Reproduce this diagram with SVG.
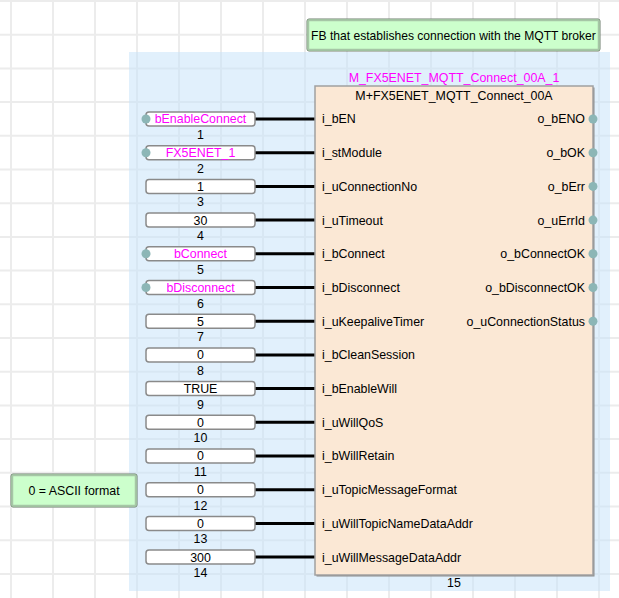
<svg xmlns="http://www.w3.org/2000/svg" width="619" height="598" viewBox="0 0 619 598">
<style>
text{font-family:"Liberation Sans",Arial,sans-serif;font-size:12.4px;fill:#000}
.grid line{stroke:#ececec;stroke-width:2}
.var{fill:#ff00ff}
.ibox{fill:#ffffff;stroke:#8a8a8a;stroke-width:1.5}
.num{text-anchor:middle}
.wire{stroke:#000;stroke-width:3}
.dot{fill:#8cb6b6}
.mid{text-anchor:middle}
.end{text-anchor:end}
</style>
<rect width="619" height="598" fill="#ffffff"/>
<g class="grid">
<line x1="11" y1="0" x2="11" y2="598"/><line x1="53" y1="0" x2="53" y2="598"/><line x1="95" y1="0" x2="95" y2="598"/><line x1="137" y1="0" x2="137" y2="598"/><line x1="179" y1="0" x2="179" y2="598"/><line x1="221" y1="0" x2="221" y2="598"/><line x1="263" y1="0" x2="263" y2="598"/><line x1="305" y1="0" x2="305" y2="598"/><line x1="347" y1="0" x2="347" y2="598"/><line x1="389" y1="0" x2="389" y2="598"/><line x1="431" y1="0" x2="431" y2="598"/><line x1="473" y1="0" x2="473" y2="598"/><line x1="515" y1="0" x2="515" y2="598"/><line x1="557" y1="0" x2="557" y2="598"/><line x1="599" y1="0" x2="599" y2="598"/>
<line x1="0" y1="1" x2="619" y2="1"/><line x1="0" y1="34.7" x2="619" y2="34.7"/><line x1="0" y1="68.4" x2="619" y2="68.4"/><line x1="0" y1="102.1" x2="619" y2="102.1"/><line x1="0" y1="135.8" x2="619" y2="135.8"/><line x1="0" y1="169.5" x2="619" y2="169.5"/><line x1="0" y1="203.2" x2="619" y2="203.2"/><line x1="0" y1="236.9" x2="619" y2="236.9"/><line x1="0" y1="270.6" x2="619" y2="270.6"/><line x1="0" y1="304.3" x2="619" y2="304.3"/><line x1="0" y1="338" x2="619" y2="338"/><line x1="0" y1="371.7" x2="619" y2="371.7"/><line x1="0" y1="405.4" x2="619" y2="405.4"/><line x1="0" y1="439.1" x2="619" y2="439.1"/><line x1="0" y1="472.8" x2="619" y2="472.8"/><line x1="0" y1="506.5" x2="619" y2="506.5"/><line x1="0" y1="540.2" x2="619" y2="540.2"/><line x1="0" y1="573.9" x2="619" y2="573.9"/>
</g>
<rect x="129" y="52" width="481" height="539" fill="#c8e4fa" fill-opacity="0.55"/>

<g id="comment-top">
<rect x="307" y="19" width="293" height="32" rx="2" fill="#ccffcc" stroke="#6f7f6f" stroke-width="1"/>
<rect x="308.5" y="20.5" width="290" height="29" fill="none" stroke="#a6c6a6" stroke-width="1.5"/>
<text x="453.5" y="39.5" class="mid" style="font-size:12.1px">FB that establishes connection with the MQTT broker</text>
</g>

<g id="comment-ascii">
<rect x="11" y="474" width="126" height="33" rx="2" fill="#ccffcc" stroke="#6f7f6f" stroke-width="1"/>
<rect x="12.5" y="475.5" width="123" height="30" fill="none" stroke="#a6c6a6" stroke-width="1.5"/>
<text x="74" y="494.5" class="mid">0 = ASCII format</text>
</g>

<g id="connectors">
<line class="wire" x1="255" y1="119" x2="315" y2="119"/>
<line class="wire" x1="255" y1="152.7" x2="315" y2="152.7"/>
<line class="wire" x1="255" y1="186.4" x2="315" y2="186.4"/>
<line class="wire" x1="255" y1="220.1" x2="315" y2="220.1"/>
<line class="wire" x1="255" y1="253.8" x2="315" y2="253.8"/>
<line class="wire" x1="255" y1="287.5" x2="315" y2="287.5"/>
<line class="wire" x1="255" y1="321.2" x2="315" y2="321.2"/>
<line class="wire" x1="255" y1="354.9" x2="315" y2="354.9"/>
<line class="wire" x1="255" y1="388.6" x2="315" y2="388.6"/>
<line class="wire" x1="255" y1="422.3" x2="315" y2="422.3"/>
<line class="wire" x1="255" y1="456" x2="315" y2="456"/>
<line class="wire" x1="255" y1="489.7" x2="315" y2="489.7"/>
<line class="wire" x1="255" y1="523.4" x2="315" y2="523.4"/>
<line class="wire" x1="255" y1="557.1" x2="315" y2="557.1"/>
</g>

<g id="in1"><rect class="ibox" x="146" y="112" width="109" height="14" rx="3"/><circle class="dot" cx="146" cy="119" r="4.5"/><text class="var mid" x="200.5" y="123.4">bEnableConnect</text><text class="num" x="200.5" y="139">1</text></g>
<g id="in2"><rect class="ibox" x="146" y="145.7" width="109" height="14" rx="3"/><circle class="dot" cx="146" cy="152.7" r="4.5"/><text class="var mid" x="200.5" y="157.1">FX5ENET_1</text><text class="num" x="200.5" y="172.7">2</text></g>
<g id="in3"><rect class="ibox" x="146" y="179.4" width="109" height="14" rx="3"/><text class="mid" x="200.5" y="190.8">1</text><text class="num" x="200.5" y="206.4">3</text></g>
<g id="in4"><rect class="ibox" x="146" y="213.1" width="109" height="14" rx="3"/><text class="mid" x="200.5" y="224.5">30</text><text class="num" x="200.5" y="240.1">4</text></g>
<g id="in5"><rect class="ibox" x="146" y="246.8" width="109" height="14" rx="3"/><circle class="dot" cx="146" cy="253.8" r="4.5"/><text class="var mid" x="200.5" y="258.2">bConnect</text><text class="num" x="200.5" y="273.8">5</text></g>
<g id="in6"><rect class="ibox" x="146" y="280.5" width="109" height="14" rx="3"/><circle class="dot" cx="146" cy="287.5" r="4.5"/><text class="var mid" x="200.5" y="291.9">bDisconnect</text><text class="num" x="200.5" y="307.5">6</text></g>
<g id="in7"><rect class="ibox" x="146" y="314.2" width="109" height="14" rx="3"/><text class="mid" x="200.5" y="325.6">5</text><text class="num" x="200.5" y="341.2">7</text></g>
<g id="in8"><rect class="ibox" x="146" y="347.9" width="109" height="14" rx="3"/><text class="mid" x="200.5" y="359.3">0</text><text class="num" x="200.5" y="374.9">8</text></g>
<g id="in9"><rect class="ibox" x="146" y="381.6" width="109" height="14" rx="3"/><text class="mid" x="200.5" y="393">TRUE</text><text class="num" x="200.5" y="408.6">9</text></g>
<g id="in10"><rect class="ibox" x="146" y="415.3" width="109" height="14" rx="3"/><text class="mid" x="200.5" y="426.7">0</text><text class="num" x="200.5" y="442.3">10</text></g>
<g id="in11"><rect class="ibox" x="146" y="449" width="109" height="14" rx="3"/><text class="mid" x="200.5" y="460.4">0</text><text class="num" x="200.5" y="476">11</text></g>
<g id="in12"><rect class="ibox" x="146" y="482.7" width="109" height="14" rx="3"/><text class="mid" x="200.5" y="494.1">0</text><text class="num" x="200.5" y="509.7">12</text></g>
<g id="in13"><rect class="ibox" x="146" y="516.4" width="109" height="14" rx="3"/><text class="mid" x="200.5" y="527.8">0</text><text class="num" x="200.5" y="543.4">13</text></g>
<g id="in14"><rect class="ibox" x="146" y="550.1" width="109" height="14" rx="3"/><text class="mid" x="200.5" y="561.5">300</text><text class="num" x="200.5" y="577.1">14</text></g>

<g id="fb">
<text class="var mid" x="454" y="82">M_FX5ENET_MQTT_Connect_00A_1</text>
<rect x="316.5" y="87.5" width="278" height="489" fill="#8c8c8c"/>
<rect x="315" y="86" width="278" height="489" fill="#fbe8d5" stroke="#a0a0a0" stroke-width="1.5"/>
<text class="mid" x="454" y="99.5">M+FX5ENET_MQTT_Connect_00A</text>
<text x="322" y="123.4">i_bEN</text>
<text x="322" y="157.1">i_stModule</text>
<text x="322" y="190.8">i_uConnectionNo</text>
<text x="322" y="224.5">i_uTimeout</text>
<text x="322" y="258.2">i_bConnect</text>
<text x="322" y="291.9">i_bDisconnect</text>
<text x="322" y="325.6">i_uKeepaliveTimer</text>
<text x="322" y="359.3">i_bCleanSession</text>
<text x="322" y="393">i_bEnableWill</text>
<text x="322" y="426.7">i_uWillQoS</text>
<text x="322" y="460.4">i_bWillRetain</text>
<text x="322" y="494.1">i_uTopicMessageFormat</text>
<text x="322" y="527.8">i_uWillTopicNameDataAddr</text>
<text x="322" y="561.5">i_uWillMessageDataAddr</text>
<text class="end" x="585" y="123.4">o_bENO</text>
<text class="end" x="585" y="157.1">o_bOK</text>
<text class="end" x="585" y="190.8">o_bErr</text>
<text class="end" x="585" y="224.5">o_uErrId</text>
<text class="end" x="585" y="258.2">o_bConnectOK</text>
<text class="end" x="585" y="291.9">o_bDisconnectOK</text>
<text class="end" x="585" y="325.6">o_uConnectionStatus</text>
<circle class="dot" cx="593" cy="119" r="4.5"/>
<circle class="dot" cx="593" cy="152.7" r="4.5"/>
<circle class="dot" cx="593" cy="186.4" r="4.5"/>
<circle class="dot" cx="593" cy="220.1" r="4.5"/>
<circle class="dot" cx="593" cy="253.8" r="4.5"/>
<circle class="dot" cx="593" cy="287.5" r="4.5"/>
<circle class="dot" cx="593" cy="321.2" r="4.5"/>
<text class="mid" x="454" y="587">15</text>
</g>
</svg>
